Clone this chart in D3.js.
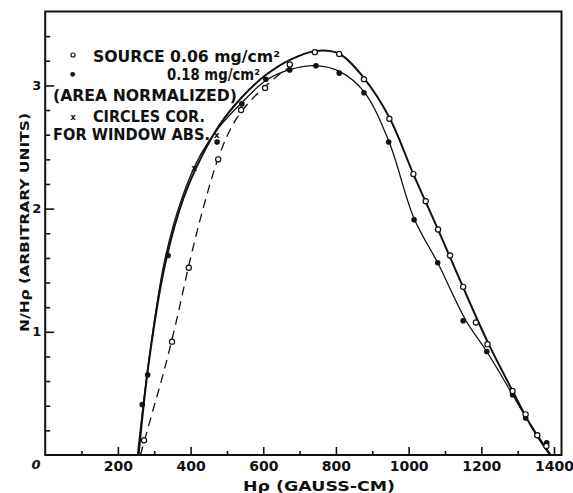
<!DOCTYPE html>
<html><head><meta charset="utf-8">
<script src="https://cdn.jsdelivr.net/npm/d3@7"></script>
<style>body{margin:0;background:#fff}svg{display:block}text{font-family:"DejaVu Sans",sans-serif;font-weight:bold;fill:#111}</style>
</head><body>
<script>
// ---- data ----
const xTicksMajor = [200,400,600,800,1000,1200,1400];
const xTicksMinor = [100,300,500,700,900,1100,1300];
const yTicksMajor = [1,2,3];
const yTicksMinor = [0.2,0.4,0.6,0.8,1.2,1.4,1.6,1.8,2.2,2.4,2.6,2.8,3.2,3.4];

// open circles (0.06 mg/cm2)
const openX = [272,349,395,476,539,605,673,742,809,877,947,1013,1047,1081,1114,1150,1185,1217,1286,1322,1354,1379];
const openY = [0.12,0.92,1.52,2.40,2.80,2.98,3.17,3.27,3.255,3.05,2.73,2.28,2.06,1.83,1.62,1.365,1.076,0.90,0.52,0.33,0.16,0.073];
// filled dots (0.18 mg/cm2)
const fillX = [267,282,338,473,541,607,673,745,809,877,945,1015,1080,1150,1215,1286,1322,1354,1380];
const fillY = [0.41,0.65,1.62,2.54,2.85,3.05,3.125,3.16,3.10,2.94,2.54,1.91,1.56,1.09,0.84,0.49,0.30,0.16,0.10];
// crosses (circles corrected for window abs.)
const crossX = [410,472];
const crossY = [2.33,2.60];

// curve through corrected open circles (thick)
const curveOpenX = [257,285,330,380,430,480,540,605,675,745,810,877,947,1013,1081,1150,1217,1286,1340,1389];
const curveOpenY = [0,0.75,1.55,2.08,2.42,2.68,2.90,3.08,3.21,3.28,3.255,3.06,2.74,2.28,1.83,1.36,0.92,0.52,0.22,0];
// curve through filled dots (thin)
const curveFillX = [254,283,328,378,428,478,541,607,675,745,812,877,945,1015,1080,1158,1215,1286,1322,1392];
const curveFillY = [0,0.72,1.57,2.10,2.44,2.66,2.86,3.04,3.13,3.16,3.11,2.95,2.55,1.92,1.56,1.09,0.84,0.49,0.31,0];
// dashed curve through uncorrected open circles
const curveDashX = [262,300,325,358,400,440,481,520,560,605,645,683];
const curveDashY = [0,0.40,0.66,1.05,1.60,2.06,2.45,2.70,2.86,2.99,3.09,3.17];

// ---- drawing ----
const W=573,H=493;
const svg=d3.select("body").append("svg").attr("width",W).attr("height",H);
const x=d3.scaleLinear().domain([0,1400]).range([45.2,554]);
const y=d3.scaleLinear().domain([0,3.6]).range([455,11.5]);
const pL=45.2,pR=561.5,pT=11.5,pB=455;

// frame
svg.append("rect").attr("x",pL).attr("y",pT).attr("width",pR-pL).attr("height",pB-pT)
  .attr("fill","none").attr("stroke","#111").attr("stroke-width",2);

// x axis ticks
const gx=svg.append("g").attr("transform",`translate(0,${pB})`);
gx.call(d3.axisBottom(x).tickValues(xTicksMinor).tickSize(-4).tickFormat(""));
gx.select(".domain").remove();
const gx2=svg.append("g").attr("transform",`translate(0,${pB})`);
gx2.call(d3.axisBottom(x).tickValues(xTicksMajor).tickSize(-8).tickPadding(6).tickFormat(d3.format("d")));
gx2.select(".domain").remove();
gx2.selectAll("text").attr("font-size",14).attr("fill","#111").attr("font-family","DejaVu Sans").attr("font-weight","bold");

// y axis ticks
const gy=svg.append("g").attr("transform",`translate(${pL},0)`);
gy.call(d3.axisLeft(y).tickValues(yTicksMinor).tickSize(-5).tickFormat(""));
gy.select(".domain").remove();
const gy2=svg.append("g").attr("transform",`translate(${pL},0)`);
gy2.call(d3.axisLeft(y).tickValues(yTicksMajor).tickSize(-9).tickPadding(4).tickFormat(d3.format("d")));
gy2.select(".domain").remove();
gy2.selectAll("text").attr("font-size",13).attr("fill","#111").attr("font-family","DejaVu Sans").attr("font-weight","bold");
svg.selectAll(".tick line").attr("stroke","#111").attr("stroke-width",1.6);

// origin label
svg.append("text").attr("x",36).attr("y",468.5).attr("text-anchor","middle").attr("font-size",13).attr("font-style","italic").text("0");

// axis titles
svg.append("text").attr("x",319).attr("y",491).attr("text-anchor","middle").attr("font-size",14)
  .attr("textLength",152).attr("lengthAdjust","spacingAndGlyphs").text("Hρ  (GAUSS-CM)");
svg.append("text").attr("transform","translate(29,222.5) rotate(-90)").attr("text-anchor","middle").attr("font-size",13)
  .attr("textLength",219).attr("lengthAdjust","spacingAndGlyphs").text("N/Hρ (ARBITRARY  UNITS)");

// curves
const line=d3.line().x(d=>x(d[0])).y(d=>y(d[1])).curve(d3.curveCatmullRom.alpha(0.5));
svg.append("path").datum(d3.zip(curveOpenX,curveOpenY)).attr("d",line).attr("fill","none").attr("stroke","#111").attr("stroke-width",2);
svg.append("path").datum(d3.zip(curveFillX,curveFillY)).attr("d",line).attr("fill","none").attr("stroke","#111").attr("stroke-width",1.3);
svg.append("path").datum(d3.zip(curveDashX,curveDashY)).attr("d",line).attr("fill","none").attr("stroke","#111").attr("stroke-width",1.3).attr("stroke-dasharray","9,6");

// markers
svg.append("g").selectAll("circle").data(d3.zip(fillX,fillY)).join("circle")
  .attr("cx",d=>x(d[0])).attr("cy",d=>y(d[1])).attr("r",2.8).attr("fill","#111");
svg.append("g").selectAll("circle").data(d3.zip(openX,openY)).join("circle")
  .attr("cx",d=>x(d[0])).attr("cy",d=>y(d[1])).attr("r",2.6).attr("fill","#fff").attr("stroke","#111").attr("stroke-width",1.2);
svg.append("g").selectAll("text").data(d3.zip(crossX,crossY)).join("text")
  .attr("x",d=>x(d[0])).attr("y",d=>y(d[1])+3).attr("text-anchor","middle").attr("font-size",9).text("x");

// legend
const lg=svg.append("g");
lg.append("circle").attr("cx",73).attr("cy",55).attr("r",2).attr("fill","#fff").attr("stroke","#111").attr("stroke-width",1.2);
lg.append("text").attr("x",93).attr("y",62).attr("font-size",15).attr("textLength",187).attr("lengthAdjust","spacingAndGlyphs").text("SOURCE 0.06 mg/cm²");
lg.append("circle").attr("cx",72.7).attr("cy",74.3).attr("r",2.4).attr("fill","#111");
lg.append("text").attr("x",167).attr("y",80).attr("font-size",15).attr("textLength",93).attr("lengthAdjust","spacingAndGlyphs").text("0.18 mg/cm²");
lg.append("text").attr("x",53).attr("y",101).attr("font-size",15).attr("textLength",184).attr("lengthAdjust","spacingAndGlyphs").text("(AREA NORMALIZED)");
lg.append("text").attr("x",73).attr("y",120).attr("text-anchor","middle").attr("font-size",8).text("x");
lg.append("text").attr("x",93).attr("y",122).attr("font-size",15).attr("textLength",112).attr("lengthAdjust","spacingAndGlyphs").text("CIRCLES COR.");
lg.append("text").attr("x",53).attr("y",140).attr("font-size",15).attr("textLength",157).attr("lengthAdjust","spacingAndGlyphs").text("FOR WINDOW ABS.");
</script>
</body></html>
